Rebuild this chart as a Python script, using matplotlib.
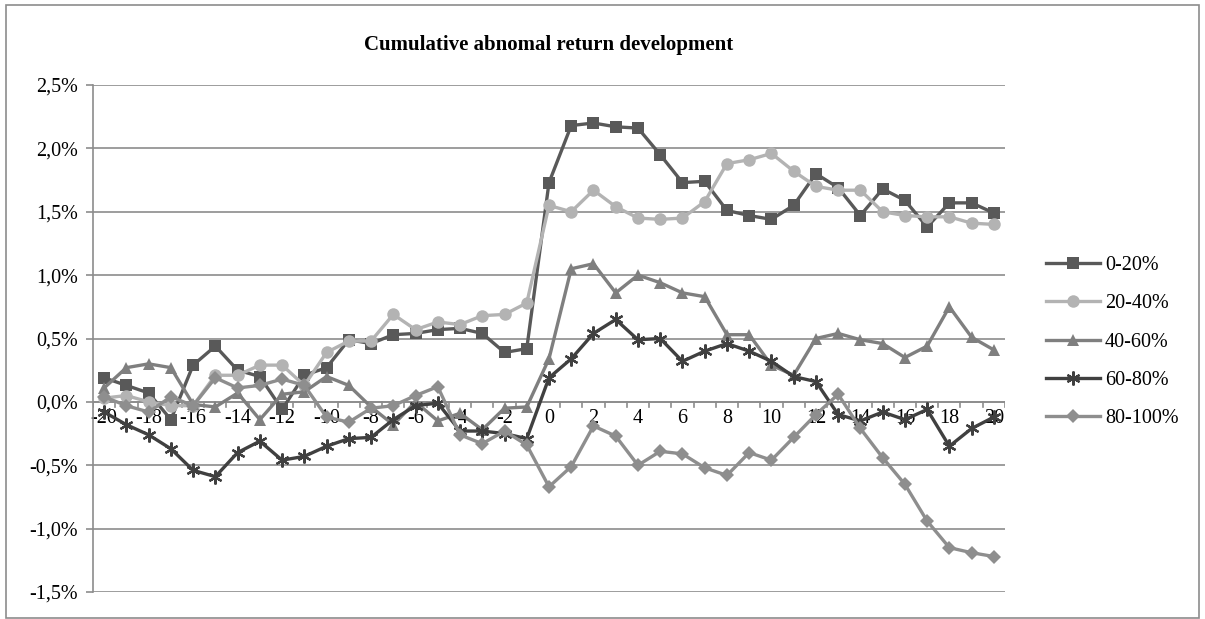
"""
plot.py
Cumulative abnormal return development by quintile, event window -20..20.
"""

import matplotlib
matplotlib.use("Agg")
import matplotlib.pyplot as plt
from matplotlib.patches import Rectangle
from matplotlib.ticker import FuncFormatter

days = list(range(-20, 21))

# values in percent
q0_20 = [0.19, 0.13, 0.07, -0.14, 0.29, 0.44, 0.25, 0.20, -0.06, 0.21,
         0.27, 0.49, 0.46, 0.53, 0.54, 0.57, 0.58, 0.54, 0.39, 0.42,
         1.73, 2.18, 2.20, 2.17, 2.16, 1.95, 1.73, 1.74, 1.51, 1.47,
         1.44, 1.55, 1.80, 1.69, 1.47, 1.68, 1.59, 1.38, 1.57, 1.57, 1.49]
q20_40 = [0.03, 0.05, 0.00, -0.03, -0.03, 0.21, 0.21, 0.29, 0.29, 0.13,
          0.39, 0.48, 0.48, 0.69, 0.57, 0.63, 0.61, 0.68, 0.69, 0.78,
          1.55, 1.50, 1.67, 1.54, 1.45, 1.44, 1.45, 1.58, 1.88, 1.91,
          1.96, 1.82, 1.70, 1.67, 1.67, 1.50, 1.47, 1.46, 1.46, 1.41, 1.40]
q40_60 = [0.11, 0.27, 0.30, 0.27, -0.02, -0.04, 0.07, -0.14, 0.06, 0.08,
          0.20, 0.13, -0.04, -0.18, 0.00, -0.15, -0.09, -0.22, -0.05, -0.04,
          0.34, 1.05, 1.09, 0.86, 1.00, 0.94, 0.86, 0.83, 0.53, 0.53,
          0.29, 0.21, 0.50, 0.54, 0.49, 0.46, 0.35, 0.44, 0.75, 0.51, 0.41]
q60_80 = [-0.08, -0.18, -0.26, -0.37, -0.54, -0.59, -0.40, -0.31, -0.46, -0.43,
          -0.35, -0.29, -0.28, -0.14, -0.03, -0.01, -0.23, -0.23, -0.25, -0.29,
          0.19, 0.34, 0.54, 0.65, 0.49, 0.50, 0.32, 0.40, 0.46, 0.40,
          0.32, 0.20, 0.16, -0.10, -0.15, -0.08, -0.14, -0.06, -0.35, -0.21, -0.12]
q80_100 = [0.04, -0.03, -0.08, 0.04, -0.03, 0.19, 0.11, 0.13, 0.18, 0.13,
           -0.12, -0.16, -0.05, -0.03, 0.05, 0.12, -0.26, -0.33, -0.23, -0.34,
           -0.67, -0.51, -0.19, -0.27, -0.50, -0.39, -0.41, -0.52, -0.58, -0.40,
           -0.46, -0.28, -0.10, 0.06, -0.21, -0.44, -0.65, -0.94, -1.15, -1.19, -1.22]

labels = ["0-20%", "20-40%", "40-60%", "60-80%", "80-100%"]
series = [q0_20, q20_40, q40_60, q60_80, q80_100]
colors = ["#595959", "#b3b3b3", "#7f7f7f", "#404040", "#8e8e8e"]
markers = ["s", "o", "^", (6, 2, 0), "D"]
msizes = [8, 9, 8.5, 10, 7]

plt.rcParams["font.family"] = ["Liberation Serif", "DejaVu Serif"]

fig = plt.figure(figsize=(12.05, 6.19), dpi=100)
fig.patches.append(Rectangle((0.005, 0.002), 0.99, 0.99, transform=fig.transFigure,
                             fill=False, edgecolor="#8c8c8c", linewidth=1.2))
ax = fig.add_axes([0.0772, 0.0436, 0.7568, 0.8191])

for vals, lab, c, m, ms in zip(series, labels, colors, markers, msizes):
    mew = 1.6 if m == (6, 2, 0) else 0
    ax.plot(days, vals, color=c, linewidth=2.4, marker=m, markersize=ms,
            markerfacecolor=c, markeredgecolor=c, markeredgewidth=mew, label=lab)

ax.set_xlim(-20.5, 20.5)
ax.set_ylim(-1.5, 2.5)
ax.set_yticks([-1.5, -1.0, -0.5, 0.0, 0.5, 1.0, 1.5, 2.0, 2.5])
ax.yaxis.set_major_formatter(FuncFormatter(lambda v, p: f"{v:.1f}%".replace(".", ",")))
ax.grid(axis="y", color="#8c8c8c", linewidth=1.2)
ax.set_axisbelow(True)

# category axis sits on the zero line, ticks between categories
for s in ["top", "right", "bottom"]:
    ax.spines[s].set_visible(False)
ax.spines["left"].set_color("#8c8c8c")
ax.spines["left"].set_linewidth(1.2)
ax.tick_params(axis="y", length=5, width=1.2, color="#8c8c8c", labelsize=14.5, pad=6)
ax.set_xticks([])
ax.axhline(0, color="#8c8c8c", linewidth=1.2, zorder=1)
for k in range(-21, 21):
    ax.plot([k + 0.5, k + 0.5], [0, -0.04], color="#8c8c8c", linewidth=1.2, zorder=1)
for d in days[::2]:
    ax.text(d, -0.055, str(d), ha="center", va="top", fontsize=14.5, zorder=1)

ax.set_title("Cumulative abnomal return development", fontsize=15,
             fontweight="bold", pad=25)

ax.legend(loc="upper left", bbox_to_anchor=(0.861, 0.60), bbox_transform=fig.transFigure,
          frameon=False, fontsize=14.5, handlelength=2.7, handletextpad=0.25,
          labelspacing=0.96, borderaxespad=0)

fig.savefig("out.png", dpi=100)
